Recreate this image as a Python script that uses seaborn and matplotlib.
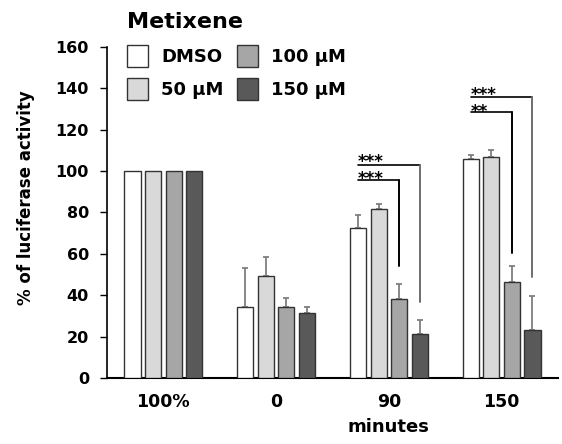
import numpy as np
import pandas as pd
import matplotlib
matplotlib.use("Agg")
import matplotlib.pyplot as plt
from matplotlib.patches import Patch
import seaborn as sns

# Values
times = ["100%", "0", "90", "150"]
treatments = ["DMSO", "50 µM", "100 µM", "150 µM"]
colors = ["#ffffff", "#d9d9d9", "#a6a6a6", "#595959"]

dmso = [100, 34.1, 72.6, 105.8]
uM50 = [100, 49.4, 81.6, 106.8]
uM100 = [100, 34.1, 38.0, 46.2]
uM150 = [100, 31.2, 21.3, 23.0]

dmso_err = [0, 18.9, 6.1, 1.9]
uM50_err = [0, 9.2, 2.3, 3.5]
uM100_err = [0, 4.7, 7.6, 7.7]
uM150_err = [0, 2.9, 6.6, 16.6]

# significance brackets: (time index, target treatment index, line height, drop-to height, label)
sig_time = [2, 2, 3, 3]
sig_target = [3, 2, 3, 2]
sig_top = [103.0, 95.7, 135.9, 128.4]
sig_end = [36.6, 54.0, 49.0, 60.5]
sig_label = ["***", "***", "***", "**"]


def build_frame():
    rows = []
    values = [dmso, uM50, uM100, uM150]
    errors = [dmso_err, uM50_err, uM100_err, uM150_err]
    for t, name in enumerate(treatments):
        for i, tm in enumerate(times):
            rows.append({"time": tm, "treatment": name,
                         "value": values[t][i], "err": errors[t][i]})
    return pd.DataFrame(rows)


def main():
    df = build_frame()

    sns.set_style("ticks")
    plt.rcParams["font.family"] = ["DejaVu Sans"]
    plt.rcParams["font.weight"] = "bold"
    for key in ["text.color", "axes.labelcolor", "xtick.color", "ytick.color", "axes.edgecolor"]:
        plt.rcParams[key] = "black"

    fig = plt.figure(figsize=(5.62, 4.44), dpi=100)
    ax = fig.add_axes([107 / 562, 1 - 378 / 444, 451 / 562, 331 / 444])

    sns.barplot(data=df, x="time", y="value", hue="treatment",
                order=times, hue_order=treatments, palette=colors,
                width=0.73, gap=0.22, edgecolor="#333333", linewidth=1,
                errorbar=None, legend=False, ax=ax, zorder=3)

    # error bars (upper only), drawn behind the bars
    n = len(treatments)
    step = 0.73 / n
    for bar in ax.patches:
        xc = bar.get_x() + bar.get_width() / 2
        gi = int(round(xc))
        hi = int(round((xc - gi + 0.73 / 2 - step / 2) / step))
        row = df[(df.time == times[gi]) & (df.treatment == treatments[hi])].iloc[0]
        if row.err > 0:
            ax.errorbar(xc, row.value, yerr=[[0], [row.err]], fmt="none",
                        ecolor="#7f7f7f", elinewidth=1.3, capsize=2.3,
                        capthick=1.3, zorder=1)

    # significance brackets
    for gi, ti, top, end in zip(sig_time, sig_target, sig_top, sig_end):
        x0 = gi + (0 - 1.5) * step
        x1 = gi + (ti - 1.5) * step
        vcol = "#6e6e6e" if ti == 3 else "black"
        ax.plot([x0, x1], [top, top], color="black", lw=1.2, zorder=4)
        ax.plot([x1, x1], [top, end], color=vcol, lw=1.4, zorder=4)

    # star labels: one stacked text per time point so the rows keep the line spacing
    # (va="baseline" anchors the last line, i.e. the lower bracket)
    for gi in sorted(set(sig_time)):
        idx = [k for k in range(len(sig_time)) if sig_time[k] == gi]
        x0 = gi + (0 - 1.5) * step
        low = min(sig_top[k] for k in idx)
        ax.annotate("\n".join(sig_label[k] for k in idx), xy=(x0, low),
                    xytext=(0, -3), textcoords="offset points",
                    ha="left", va="baseline", fontsize=12, fontweight="bold",
                    linespacing=0.93)

    ax.set_xlim(-0.5, 3.5)
    ax.set_ylim(0, 160)
    ax.set_yticks(np.arange(0, 161, 20))
    ax.tick_params(axis="y", length=5, width=1, pad=8, labelsize=11.5)
    ax.tick_params(axis="x", length=0, pad=10.5, labelsize=12.5)
    for lbl in ax.get_xticklabels() + ax.get_yticklabels():
        lbl.set_fontweight("bold")
    sns.despine(ax=ax)
    ax.spines["left"].set_linewidth(1.2)
    ax.spines["bottom"].set_linewidth(1.5)

    ax.set_ylabel("% of luciferase activity", fontsize=12, fontweight="bold")
    ax.yaxis.set_label_coords(-0.16, 0.544)
    ax.set_xlabel("minutes", fontsize=13, fontweight="bold")
    ax.xaxis.set_label_coords(0.623, -0.121)

    fig.text(127 / 562, 1 - 28.5 / 444, "Metixene", fontsize=16,
             fontweight="bold", ha="left", va="baseline")

    handles = [Patch(facecolor=c, edgecolor="#333333", linewidth=1) for c in colors]
    ax.legend(handles, treatments, ncol=2, loc="upper left",
              bbox_to_anchor=(127 / 562, 1 - 45 / 444), bbox_transform=fig.transFigure,
              frameon=False, borderpad=0, borderaxespad=0,
              prop={"size": 13, "weight": "bold"},
              handlelength=1.17, handleheight=1.5, handletextpad=0.72,
              columnspacing=0.72, labelspacing=0.62)

    fig.savefig("out.png", dpi=100)


if __name__ == "__main__":
    main()
